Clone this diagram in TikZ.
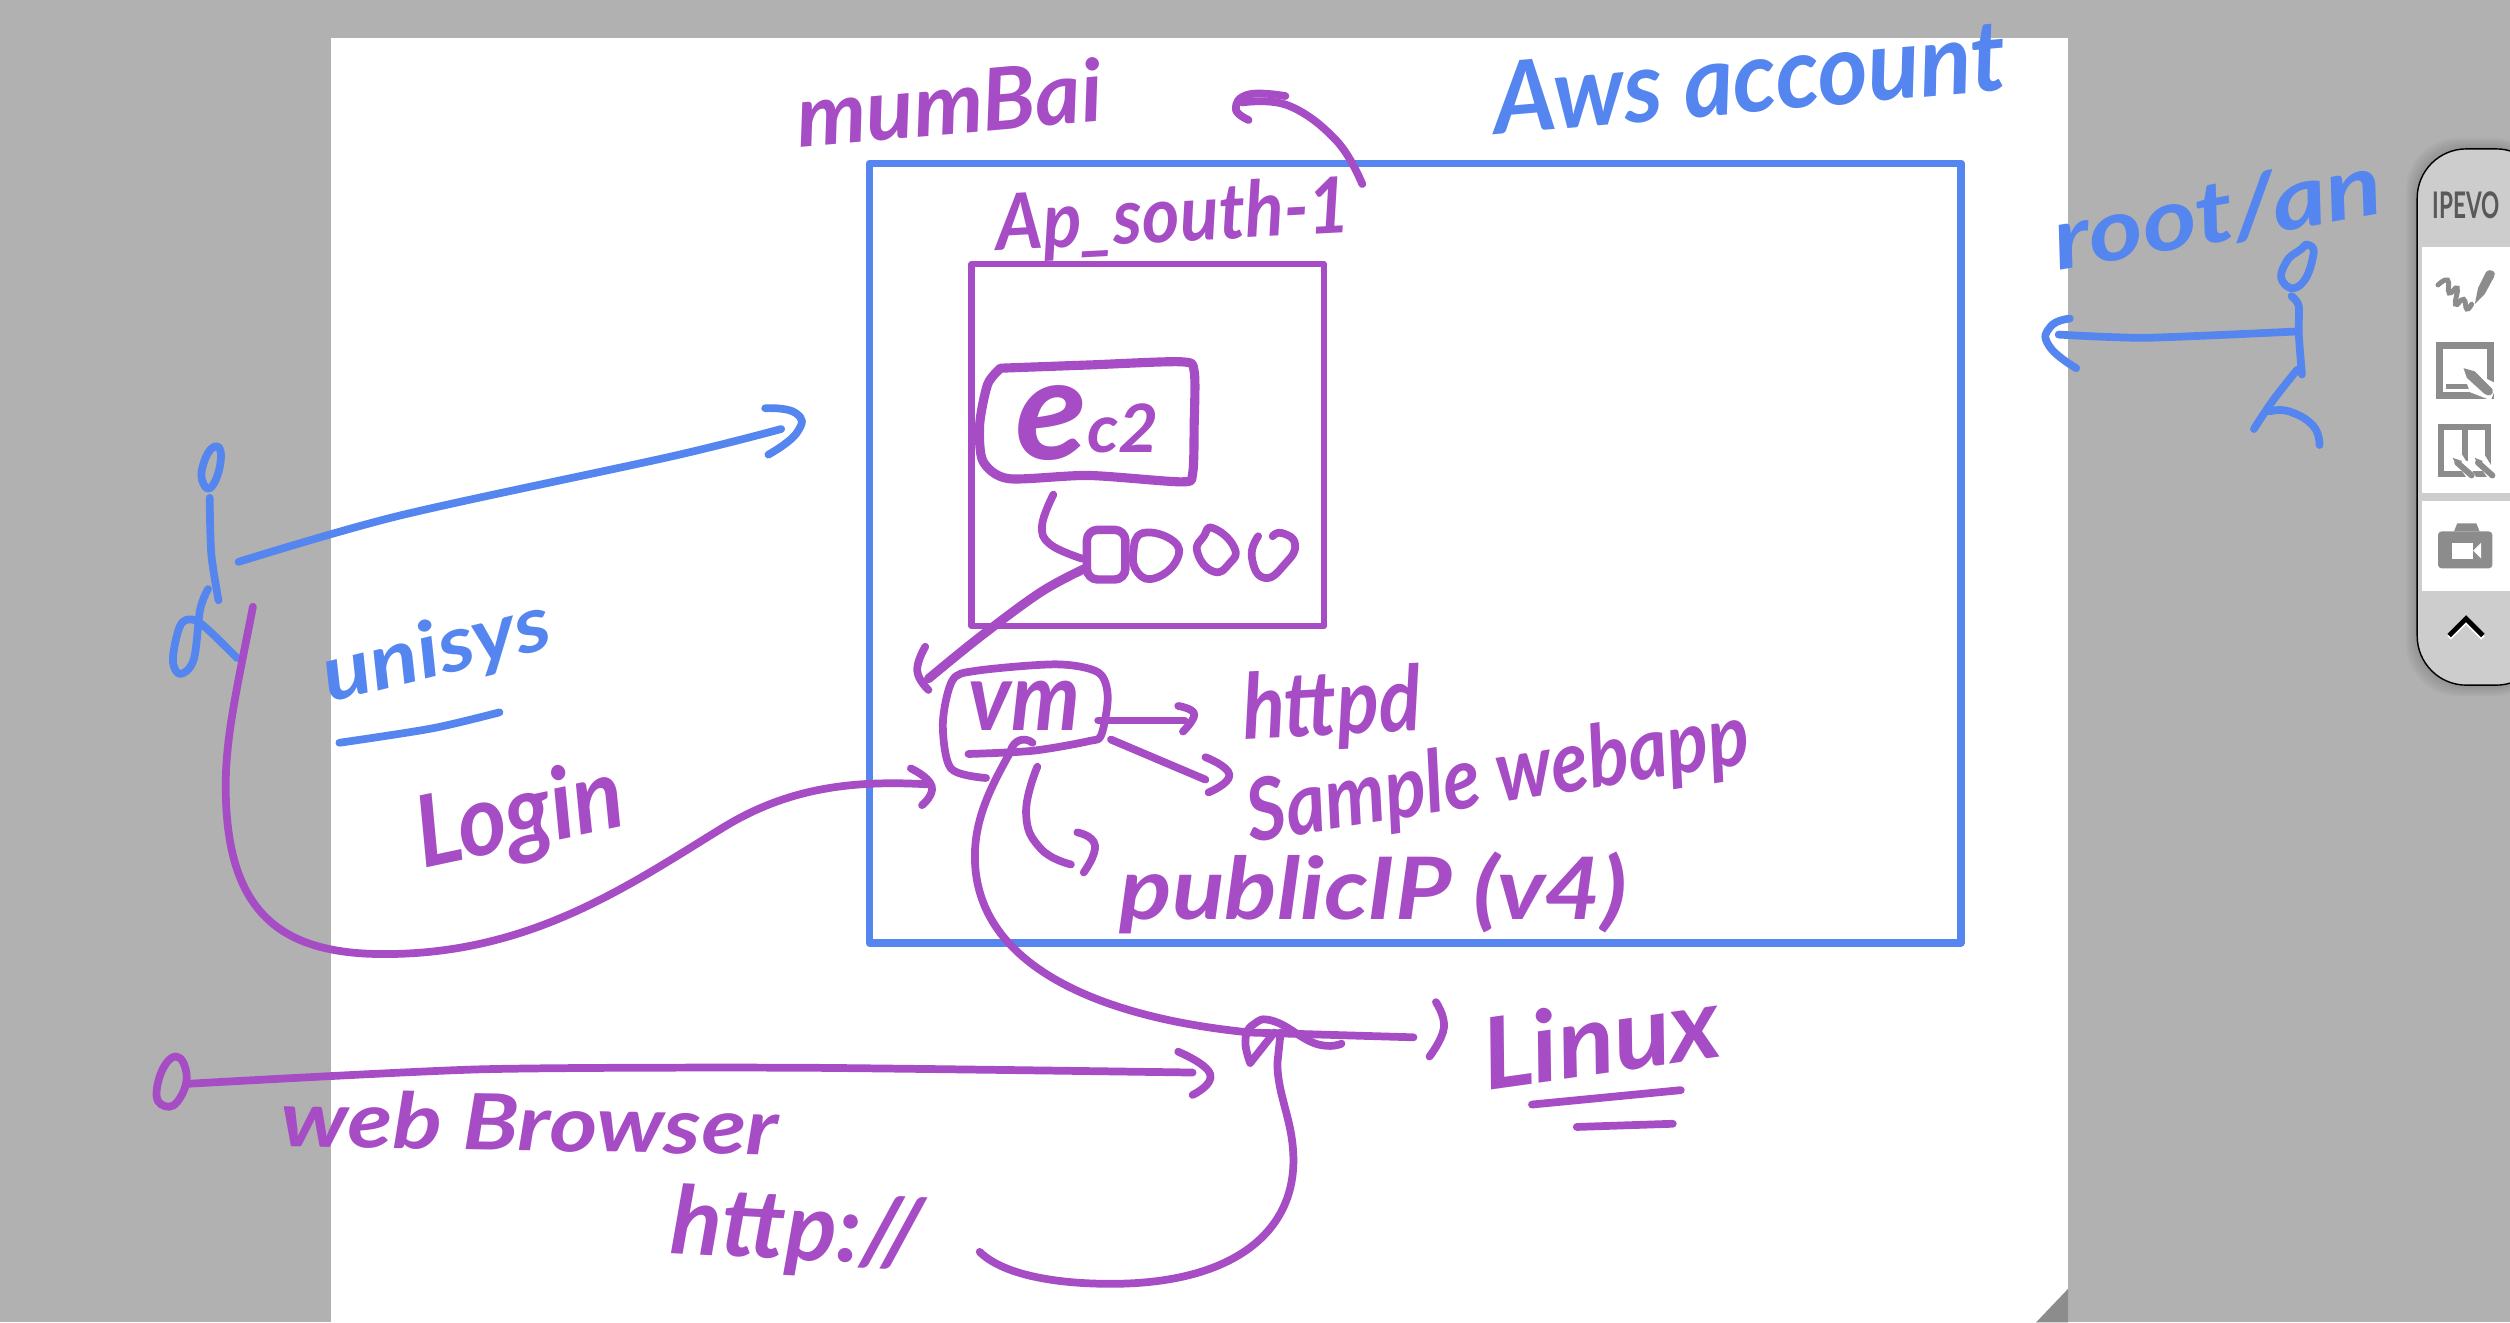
\documentclass[tikz,border=0pt]{standalone}
\usepackage{fontspec}
\setmainfont{Lato}
\usetikzlibrary{calc}
\newsavebox\hwbox
% text fitted to a width #1 and an ascender height #2, both in picture units
\newcommand{\fitted}[4]{%
  \pgfmathsetmacro{\hwsize}{#2*0.4538/0.74}%
  \sbox\hwbox{\fontsize{\hwsize pt}{\hwsize pt}\selectfont #3#4}%
  \pgfmathsetmacro{\hwfact}{#1*0.4538/\wd\hwbox}%
  \edef\hwfeat{\noexpand\addfontfeatures{FakeStretch=\hwfact}}%
  {\fontsize{\hwsize pt}{\hwsize pt}\selectfont #3\hwfeat #4}}
\newcommand{\hw}[3]{\fitted{#1}{#2}{\bfseries\itshape}{#3}}
\definecolor{inkblue}{HTML}{5585EE}
\definecolor{inkpurple}{HTML}{A64CC4}
\definecolor{deskgray}{HTML}{B1B1B1}
\definecolor{pillgray}{HTML}{CDCDCD}
\definecolor{icongray}{HTML}{8C8C8C}
\tikzset{
  bluestroke/.style={draw=inkblue,line width=2.2pt,line cap=round,line join=round},
  purplestroke/.style={draw=inkpurple,line width=2.2pt,line cap=round,line join=round},
  bluetext/.style={text=inkblue,inner sep=0pt},
  purpletext/.style={text=inkpurple,inner sep=0pt},
}
\begin{document}
\begin{tikzpicture}[x=0.016008cm,y=-0.016008cm]
\useasboundingbox (0,0) rectangle (1568,826);
\fill[deskgray] (0,0) rectangle (1568,826);
\fill[white] (207,24) rectangle (1292,826);
\fill[icongray] (1272,826) -- (1292,805) -- (1292,826) -- cycle;
% frames
\draw[inkblue,line width=2.1pt,line join=round] (543,102) rectangle (1225,589);
\draw[inkpurple,line width=1.9pt,line join=round] (607,165) rectangle (827,391);
% top labels
\node[purpletext,rotate=5] (mumbai) at (593,64) {\hw{192}{40}{mumBai}};
\node[bluetext,rotate=5] (account) at (1093,48) {\hw{322}{46}{Aws account}};
\node[purpletext,rotate=3] (region) at (733,137) {\hw{222}{36}{Ap\_south-1}};
\draw[purplestroke] plot[smooth,tension=0.7] coordinates {(851,115) (835,88) (805,66) (776,64)};
\draw[purplestroke] plot[smooth,tension=0.8] coordinates {(803,60) (780,59) (772,68) (780,75)};
% ec2
\draw[inkpurple,line width=2.6pt,line cap=round,line join=round] plot[smooth,tension=0.45] coordinates {(625,230) (680,228) (738,226) (746,232) (746,265) (745,296) (738,301) (680,297) (630,299) (614,288) (612,265) (617,240) (625,230)};
\node[purpletext] (ecname) at (679,264) {\hw{90}{66}{e{\fontsize{19}{19}\selectfont\raisebox{2pt}{c2}}}};
\draw[purplestroke] plot[smooth,tension=0.7] coordinates {(658,309) (651,328) (656,340) (676,349)};
\draw[inkpurple,line width=2.4pt,line join=round,rounded corners=3pt] (679,331) rectangle (703,362);
\draw[purplestroke] plot[smooth cycle,tension=0.8] coordinates {(708,345) (714,333) (733,338) (735,350) (722,361) (711,358)};
\draw[purplestroke] plot[smooth cycle,tension=0.9] coordinates {(758,330) (771,342) (768,352) (758,357) (748,345) (752,335)};
\draw[purplestroke] plot[smooth,tension=0.9] coordinates {(786,335) (782,348) (790,361) (803,352) (809,340) (801,333) (795,335)};
\draw[inkpurple,line width=2.6pt,line cap=round] plot[smooth,tension=0.6] coordinates {(678,355) (650,370) (612,398) (580,424)};
\draw[purplestroke] plot[smooth,tension=0.8] coordinates {(578,404) (573,419) (580,431)};
% vm
\draw[purplestroke] plot[smooth,tension=0.5] coordinates {(605,471) (645,469) (680,463) (688,459) (692,435) (686,420) (660,415) (610,419) (595,425) (589,452) (594,480) (616,486)};
\node[purpletext] (vmname) at (640,441) {\hw{70}{44}{vm}};
\draw[purplestroke] (686,450) -- (740,450);
\draw[purplestroke] plot[smooth,tension=0.8] coordinates {(736,441) (746,446) (739,457)};
\node[purpletext,rotate=3] (httpd) at (832,443) {\hw{112}{42}{httpd}};
\draw[purplestroke] (694,462) -- (753,487);
\draw[purplestroke] plot[smooth,tension=0.9] coordinates {(753,473) (768,484) (755,495)};
\node[purpletext,rotate=9] (webapp) at (936,486) {\hw{318}{40}{Sample webapp}};
\draw[purplestroke] plot[smooth,tension=0.8] coordinates {(648,479) (641,508) (650,530) (669,540)};
\draw[purplestroke] plot[smooth,tension=0.9] coordinates {(673,520) (684,528) (677,545)};
\node[purpletext] (publicip) at (858,558) {\hw{318}{40}{publicIP (v4)}};
% vm to linux
\draw[purplestroke] (645,464) .. controls (640,460) and (633,462) .. (631,470) .. controls (620,490) and (609,510) .. (609,535) .. controls (609,600) and (680,635) .. (781,645) -- (883,648);
\draw[purplestroke] plot[smooth,tension=0.8] coordinates {(897,626) (902,642) (893,660)};
\draw[purplestroke] plot[smooth,tension=0.8] coordinates {(781,664) (778,650) (783,640) (796,638) (822,652) (838,652)};
\draw[purplestroke] (781,664) -- (796,645);
\node[purpletext,rotate=8] (linux) at (1000,648) {\hw{150}{46}{Linux}};
\draw[purplestroke] (957,690) -- (1050,681);
\draw[purplestroke] (985,704) -- (1045,702);
% browser line
\draw[purplestroke] plot[smooth cycle,tension=0.9] coordinates {(107,661) (116,668) (113,685) (103,691) (98,680)};
\draw[purplestroke] plot[smooth,tension=0.4] coordinates {(118,677) (300,668) (500,667) (745,670)};
\draw[purplestroke] plot[smooth,tension=0.9] coordinates {(736,657) (756,671) (745,684)};
\node[purpletext,rotate=-1] (browser) at (331,701) {\hw{312}{36}{web Browser}};
\node[purpletext,rotate=-3] (httpname) at (498,770) {\hw{158}{44}{http://}};
\draw[purplestroke] (612,782) .. controls (625,795) and (655,802) .. (694,802) .. controls (770,802) and (808,770) .. (808,725) .. controls (808,700) and (798,685) .. (798,664) -- (800,645);
% left actor
\draw[bluestroke] plot[smooth cycle,tension=0.9] coordinates {(134,279) (138,286) (133,303) (127,302) (127,290)};
\draw[bluestroke] plot[smooth,tension=0.5] coordinates {(131,311) (132,346) (136.5,375)};
\draw[bluestroke] plot[smooth,tension=0.6] coordinates {(130,368) (125,381) (121,412) (112.5,421) (108,412) (112.5,391) (120,387) (129,392.5) (148,411)};
\draw[bluestroke] plot[smooth,tension=0.5] coordinates {(149,351) (250,322) (420,285) (488,268)};
\draw[bluestroke] plot[smooth,tension=0.9] coordinates {(478,255) (497,258) (498,270) (480,284)};
\node[bluetext,rotate=14] (unisys) at (273,408) {\hw{146}{36}{unisys}};
\draw[bluestroke] plot[smooth,tension=0.5] coordinates {(212,464) (270,455) (312,445)};
\node[purpletext,rotate=12] (login) at (325,512) {\hw{132}{46}{Login}};
\draw[purplestroke] (158,379) .. controls (148,430) and (141,460) .. (141,491) .. controls (141,570) and (175,596) .. (240,596) .. controls (330,596) and (390,555) .. (450,518) .. controls (490,493) and (530,487) .. (580,490);
\draw[purplestroke] plot[smooth,tension=0.9] coordinates {(569,480) (582,491) (576,503)};
% right actor
\node[bluetext,rotate=10] (root) at (1385,133) {\hw{208}{40}{root/an}};
\draw[bluestroke] plot[smooth cycle,tension=0.9] coordinates {(1442,153) (1445,160) (1437,178) (1426,176) (1428,164) (1437,156)};
\draw[bluestroke] plot[smooth,tension=0.5] coordinates {(1431.5,185) (1436,191) (1436,208) (1438,234)};
\draw[bluestroke] plot[smooth,tension=0.4] coordinates {(1436,207) (1341,211) (1286,209)};
\draw[bluestroke] plot[smooth,tension=0.9] coordinates {(1293,199) (1281,204) (1280,216) (1297,230)};
\draw[bluestroke] plot[smooth,tension=0.6] coordinates {(1435,231) (1420,250) (1408,268)};
\draw[bluestroke] plot[smooth,tension=0.8] coordinates {(1418,257) (1430,257) (1445,266) (1449,278)};
% toolbar shadow
\foreach \s in {1,2,...,7}{\fill[black,opacity=0.022,rounded corners=15pt] ({1510-\s},{93-\s}) rectangle (1590,{428+\s});}
\draw[black,line width=0.4pt,fill=pillgray,rounded corners=14pt] (1510,93) rectangle (1590,428);
\fill[white] (1513,154) rectangle (1568,308);
\fill[white] (1513,313) rectangle (1568,369);
\node[text=black!65,inner sep=0pt] (brand) at (1540.5,128) {\fitted{42}{17}{\bfseries}{IPEVO}};
% pen icon
\draw[icongray,line width=1.4pt,line cap=round] plot[smooth,tension=0.9] coordinates {(1523,178) (1529,175) (1530,183) (1535,180) (1534,190) (1539,187) (1541,193) (1544,190)};
\fill[icongray] (1546,190) -- (1548,180) -- (1553,170) .. controls (1556,167) and (1560,170) .. (1558,173) -- (1552,184) -- cycle;
% page icon
\draw[icongray,line width=2pt] (1524,216) rectangle (1556,247);
\fill[icongray] (1528,240) rectangle (1546,243);
\fill[white] (1537,228) -- (1560,240) -- (1556,250) -- (1543,245) -- cycle;
\fill[icongray] (1539,230) -- (1546,232) -- (1557,243) .. controls (1558,247) and (1555,248) .. (1552,246) -- (1541,236) -- cycle;
% two pages icon
\draw[icongray,line width=1.7pt] (1525,267) rectangle (1554,296);
\draw[icongray,line width=1.7pt] (1540,267) -- (1540,288);
\fill[white] (1531,284) -- (1538,284) -- (1548,300) -- (1542,300) -- cycle;
\fill[white] (1544,284) -- (1552,284) -- (1562,300) -- (1555,300) -- cycle;
\draw[icongray,line width=1.7pt,line cap=round] (1535,289) -- (1544,297);
\draw[icongray,line width=1.7pt,line cap=round] (1548,289) -- (1557,297);
\fill[icongray] (1532,286) -- (1538,288) -- (1535,291) -- cycle;
\fill[icongray] (1546,286) -- (1551,288) -- (1548,291) -- cycle;
% camera icon
\fill[icongray,rounded corners=1pt] (1523,332) rectangle (1557,355);
\fill[icongray] (1533,332) -- (1535,327) -- (1547,327) -- (1549,332) -- cycle;
\fill[white] (1532,339) rectangle (1545,349);
\fill[white] (1545,344) -- (1550,339) -- (1550,349) -- cycle;
% chevron
\draw[white,line width=1.4pt] (1530,398.5) -- (1540.5,388) -- (1551,398.5);
\draw[black,line width=1.4pt] (1530,397) -- (1540.5,386.5) -- (1551,397);
\end{tikzpicture}
\end{document}
